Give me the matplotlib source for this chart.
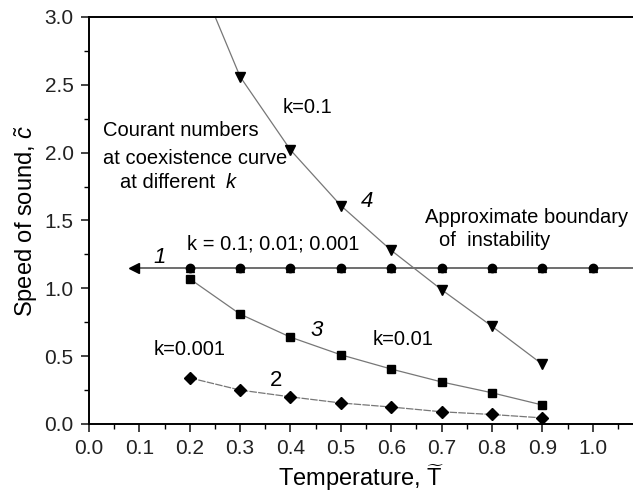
import matplotlib
matplotlib.use("Agg")
import matplotlib.pyplot as plt
from matplotlib.ticker import MultipleLocator, FormatStrFormatter

plt.rcParams['font.family'] = ['Liberation Sans', 'DejaVu Sans']
plt.rcParams['mathtext.fontset'] = 'custom'
plt.rcParams['mathtext.rm'] = 'Liberation Sans'
plt.rcParams['mathtext.it'] = 'Liberation Sans:italic'

# Data
T_boundary = [0.2, 0.3, 0.4, 0.5, 0.6, 0.7, 0.8, 0.9, 1.0]
c_boundary = [1.15, 1.15, 1.15, 1.15, 1.15, 1.15, 1.15, 1.15, 1.15]
boundary_ext = [0.09, 1.08]

T_k01 = [0.2, 0.3, 0.4, 0.5, 0.6, 0.7, 0.8, 0.9]
c_k01 = [3.45, 2.56, 2.02, 1.61, 1.28, 0.99, 0.72, 0.44]

T_k001 = [0.2, 0.3, 0.4, 0.5, 0.6, 0.7, 0.8, 0.9]
c_k001 = [1.07, 0.81, 0.64, 0.51, 0.405, 0.31, 0.23, 0.14]

T_k0001 = [0.2, 0.3, 0.4, 0.5, 0.6, 0.7, 0.8, 0.9]
c_k0001 = [0.34, 0.25, 0.20, 0.155, 0.125, 0.09, 0.07, 0.045]

fig = plt.figure(figsize=(6.33, 4.97), dpi=100)
ax = fig.add_axes([0.1406, 0.1469, 0.8594, 0.8189])

gray = '#777777'
# curve 1: boundary
ax.plot(boundary_ext, [c_boundary[0]] * 2, color='#555555', lw=1.2, zorder=1)
ax.plot([boundary_ext[0]], [c_boundary[0]], marker='<', color='black', ms=7, ls='none', clip_on=False)
ax.plot(T_boundary, c_boundary, ls='none', marker='o', color='black', ms=6)
ax.plot(T_boundary, c_boundary, ls='none', marker='^', color='black', ms=6)
ax.plot(T_boundary, c_boundary, ls='none', marker='D', color='black', ms=4.5)

# curve 4
ax.plot(T_k01, c_k01, color=gray, lw=0.9, marker='v', mfc='black', mec='black', ms=7)
# curve 3
ax.plot(T_k001, c_k001, color=gray, lw=0.9, marker='s', mfc='black', mec='black', ms=6)
# curve 2
ax.plot(T_k0001, c_k0001, color=gray, lw=0.9, ls='--', dashes=(6, 1), marker='D', mfc='black', mec='black', ms=6)

ax.set_xlim(0.0, 1.08)
ax.set_ylim(0.0, 3.0)
ax.xaxis.set_major_locator(MultipleLocator(0.1))
ax.xaxis.set_minor_locator(MultipleLocator(0.05))
ax.yaxis.set_major_locator(MultipleLocator(0.5))
ax.yaxis.set_minor_locator(MultipleLocator(0.25))
ax.xaxis.set_major_formatter(FormatStrFormatter('%.1f'))
ax.yaxis.set_major_formatter(FormatStrFormatter('%.1f'))
ax.tick_params(which='major', direction='out', length=6, width=1.2, labelsize=15, pad=5, colors='#222222')
ax.tick_params(which='minor', direction='out', length=3.5, width=1.0)
ax.spines['right'].set_visible(False)
for s in ['left', 'bottom', 'top']:
    ax.spines[s].set_linewidth(1.4)

ax.set_xlabel(r'Temperature, $\widetilde{\mathrm{T}}$', fontsize=17, labelpad=3)
ax.set_ylabel(r'Speed of sound, $\tilde{c}$', fontsize=17, labelpad=3)

fs = 14.5
ax.text(0.385, 2.33, 'k=0.1', fontsize=fs, va='center')
ax.text(0.028, 2.16, 'Courant numbers', fontsize=fs, va='center')
ax.text(0.028, 1.96, 'at coexistence curve', fontsize=fs, va='center')
ax.text(0.062, 1.78, 'at different', fontsize=fs, va='center')
ax.text(0.272, 1.78, 'k', fontsize=fs, va='center', style='italic')
ax.text(0.54, 1.64, '4', fontsize=16, va='center', style='italic')
ax.text(0.668, 1.52, 'Approximate boundary', fontsize=fs, va='center')
ax.text(0.695, 1.35, 'of  instability', fontsize=fs, va='center')
ax.text(0.195, 1.33, 'k = 0.1; 0.01; 0.001', fontsize=fs, va='center')
ax.text(0.128, 1.23, '1', fontsize=16, va='center', style='italic')
ax.text(0.44, 0.69, '3', fontsize=16, va='center', style='italic')
ax.text(0.563, 0.62, 'k=0.01', fontsize=fs, va='center')
ax.text(0.128, 0.55, 'k=0.001', fontsize=fs, va='center')
ax.text(0.36, 0.32, '2', fontsize=16, va='center')

fig.savefig('out.png', dpi=100)
